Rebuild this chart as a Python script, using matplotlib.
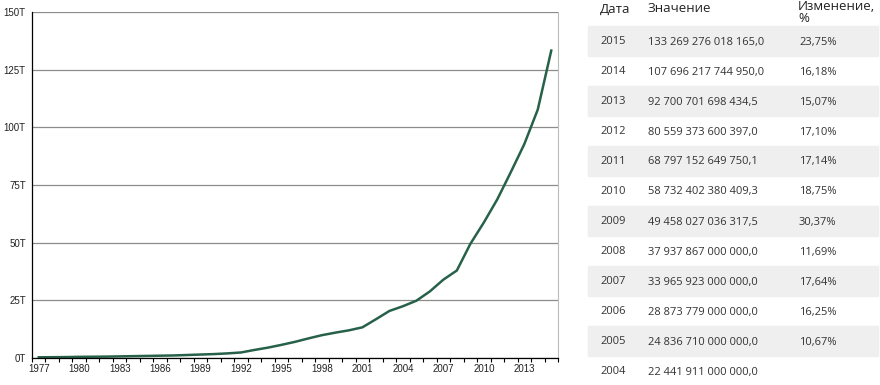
import matplotlib.pyplot as plt
from matplotlib.patches import Rectangle
from matplotlib.ticker import FixedLocator, NullFormatter

# годы и значения (в триллионах, до 2004 - оценка по графику)
years = list(range(1977, 2016))
early_vals = [0.3, 0.35, 0.4, 0.5, 0.55, 0.6, 0.7, 0.8, 0.9, 1.0,
              1.1, 1.3, 1.5, 1.7, 2.0, 2.4, 3.5, 4.5, 5.7, 7.0,
              8.5, 9.9, 11.0, 12.0, 13.3, 16.8, 20.4]
# точные значения из таблицы
table_years = [2015, 2014, 2013, 2012, 2011, 2010, 2009, 2008, 2007, 2006, 2005, 2004]
table_vals = [133269276018165.0, 107696217744950.0, 92700701698434.5, 80559373600397.0,
              68797152649750.1, 58732402380409.3, 49458027036317.5, 37937867000000.0,
              33965923000000.0, 28873779000000.0, 24836710000000.0, 22441911000000.0]

values = early_vals + [v / 1e12 for v in table_vals[::-1]]

y_ticks = [0, 25, 50, 75, 100, 125, 150]
x_labels = list(range(1977, 2014, 3))

fig = plt.figure(figsize=(8.8, 3.85), dpi=100)
ax = fig.add_axes([32 / 880, 27 / 385, 526 / 880, 346 / 385])

ax.plot(years, values, color='#276149', lw=1.8, solid_joinstyle='round')

ax.set_xlim(1976.5, 2015.5)
ax.set_ylim(0, 150)

ax.set_yticks(y_ticks)
ax.set_yticklabels([f'{t}T' for t in y_ticks])
ax.yaxis.grid(True, color='#8c8c8c', lw=0.9)
ax.set_axisbelow(True)

ax.set_xticks(x_labels)
ax.set_xticklabels([str(y) for y in x_labels])
ax.xaxis.set_minor_locator(FixedLocator([y + 0.5 for y in range(1976, 2016)]))
ax.xaxis.set_minor_formatter(NullFormatter())

ax.tick_params(axis='y', length=0, pad=4.5, labelsize=7, labelcolor='#222222')
ax.tick_params(axis='x', which='major', length=0, pad=4.5, labelsize=7, labelcolor='#222222')
ax.tick_params(axis='x', which='minor', length=3, width=0.8, direction='out', color='black')
for lab in ax.get_xticklabels() + ax.get_yticklabels():
    lab.set_family('Liberation Sans')

ax.spines['top'].set_visible(False)
ax.spines['right'].set_color('#bbbbbb')
ax.spines['right'].set_linewidth(0.8)
ax.spines['left'].set_linewidth(0.9)
ax.spines['bottom'].set_linewidth(0.9)

# таблица справа
def fmt(v):
    s = f'{v:,.1f}'
    return s.replace(',', ' ').replace('.', ',')

W, H = 880, 385
txt = dict(family='Open Sans', color='#333333', va='center')
head = dict(family='Open Sans', color='#222222', va='center', fontsize=9.5)

fig.text(600 / W, 1 - 9 / H, 'Дата', **head)
fig.text(648 / W, 1 - 9 / H, 'Значение', **head)
fig.text(798 / W, 1 - 6 / H, 'Изменение,', **head)
fig.text(798 / W, 1 - 19 / H, '%', **head)

for i, (yr, v) in enumerate(zip(table_years, table_vals)):
    top = 26 + 30 * i
    if i % 2 == 0:
        fig.patches.append(Rectangle((588 / W, 1 - (top + 30) / H), 290 / W, 30 / H,
                                     transform=fig.transFigure, color='#efefef', zorder=0))
    yc = 1 - (top + 16) / H
    fig.text(600 / W, yc, str(yr), fontsize=8, **txt)
    fig.text(648 / W, yc, fmt(v), fontsize=8, **txt)
    if i + 1 < len(table_vals):
        ch = (v / table_vals[i + 1] - 1) * 100
        fig.text(799 / W, yc, f'{ch:.2f}%'.replace('.', ','), fontsize=8, **txt)

fig.savefig('out.png', dpi=100)
